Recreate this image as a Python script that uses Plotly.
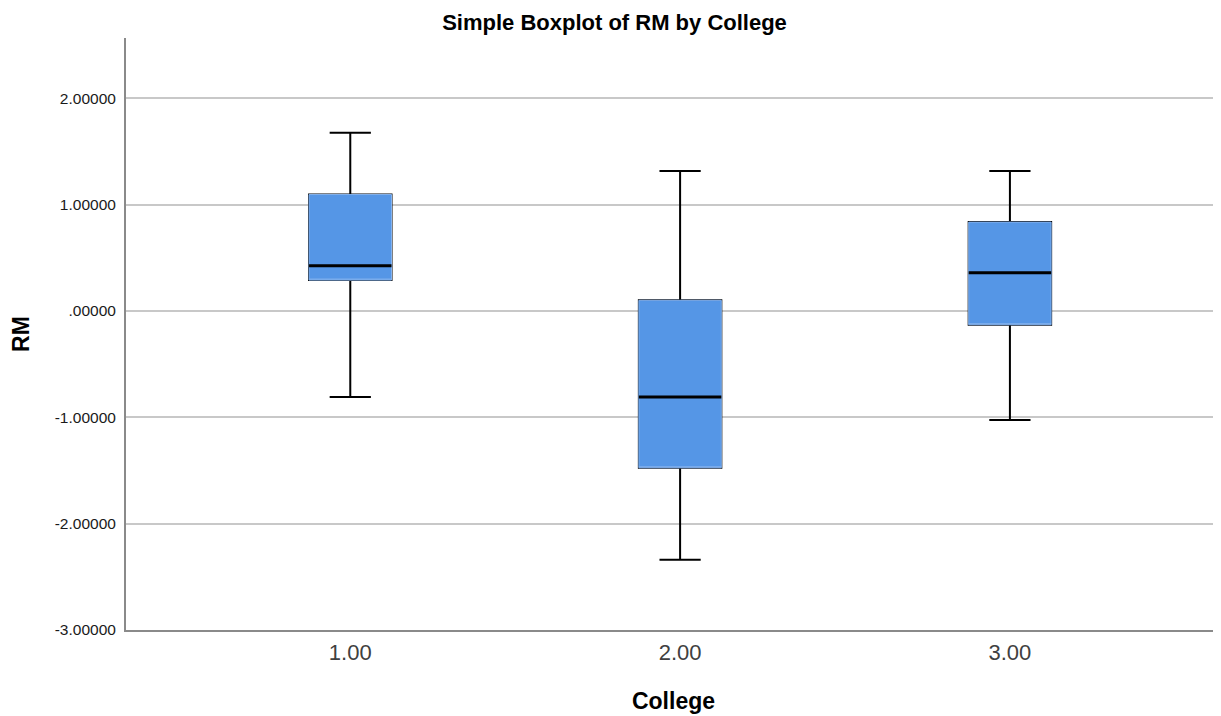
import plotly.graph_objects as go

# Data
colleges = [1, 2, 3]
college_labels = ["1.00", "2.00", "3.00"]
lower_whisker = [-0.81, -2.34, -1.025]
q1_vals = [0.29, -1.475, -0.13]
median_vals = [0.425, -0.81, 0.36]
q3_vals = [1.095, 0.10, 0.835]
upper_whisker = [1.675, 1.315, 1.315]

y_tickvals = [-3, -2, -1, 0, 1, 2]
y_ticktext = ["-3.00000", "-2.00000", "-1.00000", ".00000", "1.00000", "2.00000"]

BOX_W = 0.25
FILL = "#5596e6"
EDGE = "#86b3ee"

fig = go.Figure()

# whiskers (black)
fig.add_trace(go.Box(
    x=colleges, q1=q1_vals, median=median_vals, q3=q3_vals,
    lowerfence=lower_whisker, upperfence=upper_whisker,
    width=BOX_W, whiskerwidth=0.5, line=dict(color="black", width=2),
    fillcolor=FILL, boxpoints=False, showlegend=False, hoverinfo="skip"))

# filled box with light edge
fig.add_trace(go.Box(
    x=colleges, q1=q1_vals, median=q1_vals, q3=q3_vals,
    lowerfence=q1_vals, upperfence=q3_vals,
    width=BOX_W, whiskerwidth=0, line=dict(color=EDGE, width=1),
    fillcolor=FILL, boxpoints=False, showlegend=False))

# median line (black)
fig.add_trace(go.Box(
    x=colleges, q1=median_vals, median=median_vals, q3=median_vals,
    lowerfence=median_vals, upperfence=median_vals,
    width=BOX_W, whiskerwidth=0, line=dict(color="black", width=3),
    fillcolor="black", boxpoints=False, showlegend=False, hoverinfo="skip"))

fig.update_layout(
    width=1213, height=708,
    paper_bgcolor="white", plot_bgcolor="white",
    margin=dict(l=118, r=0, t=30, b=86),
    boxmode="overlay",
    font=dict(family="Liberation Sans, Arial, sans-serif", color="black"),
    title=dict(text="<b>Simple Boxplot of RM by College</b>", x=0.5, xanchor="center",
               y=0.98, yanchor="middle", font=dict(size=22, color="black")),
    xaxis=dict(
        range=[0.32, 3.64], tickvals=colleges, ticktext=college_labels,
        showgrid=False, zeroline=False,
        showline=True, linecolor="#8a8a8a", linewidth=2,
        ticks="", tickfont=dict(size=22, color="#404040"),
        ticklabelstandoff=2,
        title=dict(text="<b>College</b>", font=dict(size=23, color="black"), standoff=28),
    ),
    yaxis=dict(
        range=[-3, 2.566], tickvals=y_tickvals, ticktext=y_ticktext,
        showgrid=True, gridcolor="#c8c8c8", gridwidth=1.5, zeroline=False,
        showline=True, linecolor="#8a8a8a", linewidth=2,
        ticks="", tickfont=dict(size=15.5, color="#1a1a1a"),
        ticklabelstandoff=5,
        title=dict(text="<b>RM</b>", font=dict(size=23, color="black"), standoff=21),
    ),
)

fig.write_html("out.html")
